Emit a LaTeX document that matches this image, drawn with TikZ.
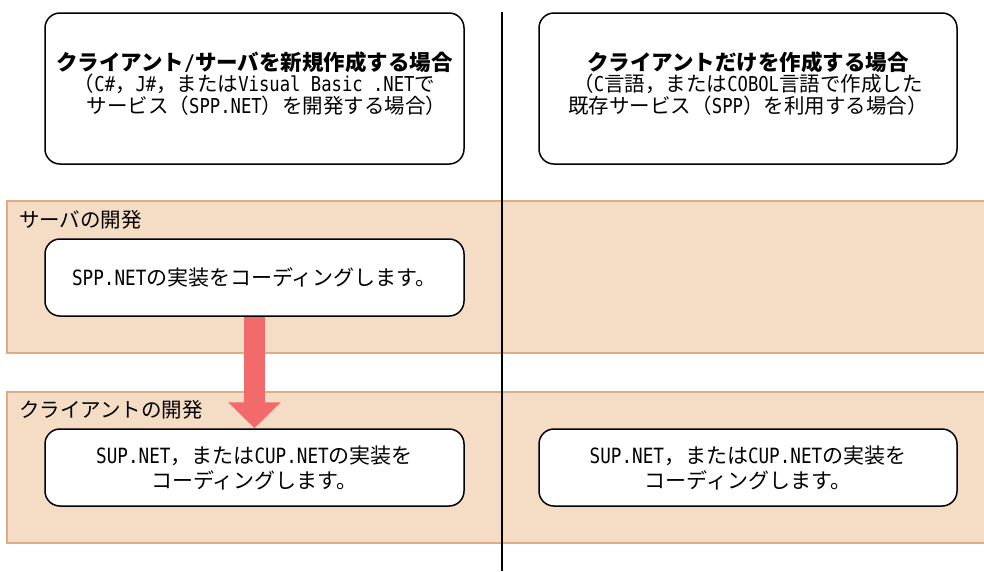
\documentclass[tikz,border=0pt]{standalone}
\usepackage{fontspec}
\setmainfont{Noto Sans CJK JP}
\newfontfamily\latfont[FakeStretch=0.84]{DejaVu Sans Mono}
\newcommand{\lat}[1]{{\latfont #1}}
\usetikzlibrary{arrows.meta}
\definecolor{bandfill}{HTML}{F4DCC5}
\definecolor{bandline}{HTML}{DDAE86}
\definecolor{arrowred}{HTML}{F26A6A}
\begin{document}
\begin{tikzpicture}[x=1pt,y=-1pt,
  bandbox/.style={draw=bandline,fill=bandfill,line width=1.5pt},
  roundbox/.style={draw=black,fill=white,line width=1.5pt,rounded corners=15pt,inner sep=0pt},
  bodytext/.style={align=center,font=\fontsize{21}{25}\selectfont,inner sep=0pt},
  headtext/.style={align=center,font=\fontsize{20.5}{21.5}\selectfont,inner sep=0pt},
  bandlabel/.style={anchor=west,font=\fontsize{20.5}{22}\selectfont,inner sep=0pt},
  bigarrow/.style={arrowred,line width=21pt,-{Triangle[width=51pt,length=26pt]}}
]
\useasboundingbox (0,0) rectangle (984,571);
\fill[white] (0,0) rectangle (984,571);

% bands
\draw[bandbox] (7,201) rectangle (990,353);
\draw[bandbox] (7,392) rectangle (990,543);
\node[bandlabel] (lab1) at (19,220) {サーバの開発};
\node[bandlabel] (lab2) at (19,410) {クライアントの開発};

% divider
\coordinate (divtop) at (502,12);
\coordinate (divbot) at (502,571);
\draw[black,line width=1.5pt] (divtop) -- (divbot);

% boxes
\node[roundbox,minimum width=419pt,minimum height=151pt] (box1) at (254.5,88.5) {};
\node[roundbox,minimum width=418pt,minimum height=151pt] (box2) at (748,88.5) {};
\node[roundbox,minimum width=419pt,minimum height=77pt] (box3) at (254.5,277.5) {};
\node[roundbox,minimum width=419pt,minimum height=77pt] (box4) at (254.5,467.5) {};
\node[roundbox,minimum width=418pt,minimum height=77pt] (box5) at (748,467.5) {};

% arrow
\draw[bigarrow] (box3.south) -- (box4.north);

% texts
\node[headtext] (t1) at ([yshift=5pt]box1.center)
  {{\fontsize{21.5}{20}\selectfont\bfseries クライアント\lat{/}サーバを新規作成する場合}\\
   （\lat{C\#}，\lat{J\#}，または\lat{Visual Basic .NET}で\\
   \hspace*{24pt}サービス（\lat{SPP.NET}）を開発する場合）};
\node[headtext] (t2) at ([yshift=5pt]box2.center)
  {{\fontsize{21.5}{20}\selectfont\bfseries クライアントだけを作成する場合}\\
   （\lat{C}言語，または\lat{COBOL}言語で作成した\\
   既存サービス（\lat{SPP}）を利用する場合）};
\node[bodytext] (t3) at (box3.center) {\lat{SPP.NET}の実装をコーディングします。};
\node[bodytext] (t4) at (box4.center) {\lat{SUP.NET}，または\lat{CUP.NET}の実装を\\コーディングします。};
\node[bodytext] (t5) at (box5.center) {\lat{SUP.NET}，または\lat{CUP.NET}の実装を\\コーディングします。};
\end{tikzpicture}
\end{document}
